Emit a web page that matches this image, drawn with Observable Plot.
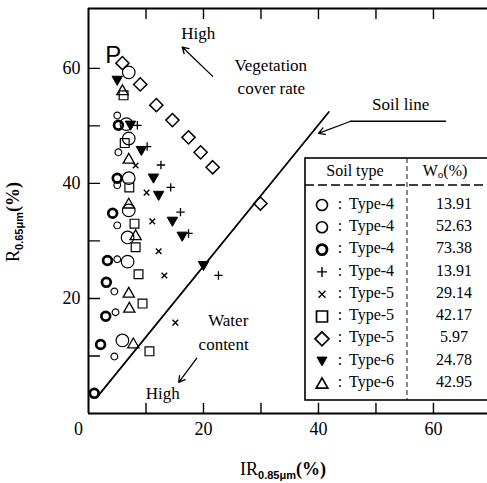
<!DOCTYPE html>
<html><head><meta charset="utf-8">
<script src="https://cdn.jsdelivr.net/npm/d3@7"></script>
<script src="https://cdn.jsdelivr.net/npm/@observablehq/plot@0.6"></script>
<style>
body{margin:0;background:#fff}
#chart svg{display:block}
</style>
</head><body><div id="chart"></div>
<script>
// ---- data (x = IR0.85μm %, y = R0.65μm %) ----
const circleW1391 = [[5.0,51.8],[5.2,45.4],[5.0,39.7],[5.0,32.7],[5.0,26.8],[4.5,21.2],[4.7,17.6],[4.5,9.9]];
const circleW5263 = [[7.0,59.3],[6.6,50.3],[7.0,47.8],[7.0,40.9],[7.0,35.3],[6.8,30.6],[6.8,26.4],[5.9,12.7]];
const boldCircleW7338 = [[5.2,50.1],[5.0,40.9],[4.2,34.8],[3.3,26.6],[3.1,22.8],[3.0,16.9],[2.1,12.0],[1.0,3.5]];
const plusW1391 = [[8.5,50.1],[10.2,46.4],[12.6,43.2],[14.3,39.3],[16.0,35.0],[17.4,31.3],[22.6,24.0]];
const timesW2914 = [[8.2,43.1],[10.1,38.4],[11.1,33.4],[12.2,28.2],[13.2,24.0],[15.1,15.8]];
const squareW4217 = [[6.1,55.3],[6.3,47.0],[7.1,39.3],[8.0,33.0],[8.2,28.9],[8.7,24.2],[9.4,19.1],[10.6,10.8]];
const diamondW597 = [[5.9,60.9],[9.0,57.2],[11.8,53.6],[14.6,51.0],[17.4,48.0],[19.5,45.4],[21.6,42.8],[29.9,36.5]];
const triDownW2478 = [[5.0,57.9],[7.3,50.1],[9.2,45.7],[11.3,40.9],[12.2,37.9],[14.6,33.4],[16.3,30.8],[20.0,25.7]];
const triUpW4295 = [[5.9,56.2],[7.0,44.3],[7.0,36.5],[8.2,31.0],[7.0,21.0],[7.1,18.4],[7.8,12.2]];

const soilLine = [[1.7,3.1],[41.8,52.4]];

const xDomain = [0, 69.4];
const yDomain = [0, 70.4];
const xTicks = [10,20,30,40,50,60];
const yTicks = [10,20,30,40,50,60];
const xTickLabels = [20,40,60];
const yTickLabels = [20,40,60];

const legendSoil = ["Type-4","Type-4","Type-4","Type-4","Type-5","Type-5","Type-5","Type-6","Type-6"];
const legendW = ["13.91","52.63","73.38","13.91","29.14","42.17","5.97","24.78","42.95"];

const notes = [
  {x:19.1, y:66.1, text:"High"},
  {x:31.7, y:60.5, text:"Vegetation"},
  {x:31.8, y:56.5, text:"cover rate"},
  {x:54.3, y:53.7, text:"Soil line"},
  {x:24.3, y:16.2, text:"Water"},
  {x:23.5, y:12.0, text:"content"},
  {x:12.9, y:3.5, text:"High"}
];
const arrows = [
  {x1:21.6, y1:58.6, x2:16.3, y2:63.7},
  {x1:18.8, y1:9.6, x2:15.7, y2:5.4},
  {x1:45.6, y1:50.8, x2:40.0, y2:48.7}
];
const soilPointer = [[62.1,50.8],[45.6,50.8]];

// ---- symbols ----
const R = s => Math.sqrt(s/Math.PI);
const plusSym = {draw(c,s){const r=R(s);c.moveTo(-r,0);c.lineTo(r,0);c.moveTo(0,-r);c.lineTo(0,r);}};
const timesSym = {draw(c,s){const r=R(s);c.moveTo(-r,-r);c.lineTo(r,r);c.moveTo(-r,r);c.lineTo(r,-r);}};
const squareSym = {draw(c,s){const r=R(s);c.moveTo(-r,-r);c.lineTo(r,-r);c.lineTo(r,r);c.lineTo(-r,r);c.closePath();}};
const diamondSym = {draw(c,s){const r=R(s);c.moveTo(0,-r);c.lineTo(r,0);c.lineTo(0,r);c.lineTo(-r,0);c.closePath();}};
const triDownSym = {draw(c,s){const r=R(s);c.moveTo(-r,-r*0.8);c.lineTo(r,-r*0.8);c.lineTo(0,r*0.95);c.closePath();}};
const triUpSym = {draw(c,s){const r=R(s);c.moveTo(0,-r*0.95);c.lineTo(r,r*0.8);c.lineTo(-r,r*0.8);c.closePath();}};
const circleSym = {draw(c,s){const r=R(s);c.moveTo(r,0);c.arc(0,0,r,0,2*Math.PI);}};
const tickShape = {draw(c,l){c.moveTo(0,0);c.lineTo(0,-l);}};

const px = d => d[0], py = d => d[1];
const series = [
  {data:circleW1391, sym:circleSym, r:3.4, sw:1.1, fill:"none", lr:5.5, lsw:1.6},
  {data:circleW5263, sym:circleSym, r:6.3, sw:1.2, fill:"none", lr:5.5, lsw:1.6},
  {data:boldCircleW7338, sym:circleSym, r:4.4, sw:2.7, fill:"none", lr:5, lsw:2.8},
  {data:plusW1391, sym:plusSym, r:4.2, sw:1.3, fill:"none", lr:5, lsw:1.4},
  {data:timesW2914, sym:timesSym, r:2.8, sw:1.4, fill:"none", lr:3.5, lsw:1.4},
  {data:squareW4217, sym:squareSym, r:4.4, sw:1.2, fill:"none", lr:5.5, lsw:1.7},
  {data:diamondW597, sym:diamondSym, r:6.6, sw:1.5, fill:"none", lr:7, lsw:1.7},
  {data:triDownW2478, sym:triDownSym, r:5.2, sw:1, fill:"black", lr:5, lsw:1},
  {data:triUpW4295, sym:triUpSym, r:5.6, sw:1.3, fill:"none", lr:5.8, lsw:1.7}
];

const SERIF = "Liberation Serif, serif";
const SANS = "Liberation Sans, sans-serif";
const W = 487, H = 483;
const plot = Plot.plot({
  width: W, height: H,
  marginLeft: 88, marginRight: 0, marginTop: 8, marginBottom: 70,
  x: {domain: xDomain, axis: null},
  y: {domain: yDomain, axis: null},
  style: {background: "white", color: "black", overflow: "visible"},
  marks: [
    Plot.ruleX([xDomain[0]], {stroke:"black", strokeWidth:2}),
    Plot.ruleY([yDomain[0], yDomain[1]], {stroke:"black", strokeWidth:2}),
    Plot.vector(xTicks, {x:d=>d, y:yDomain[0], length:10, rotate:0, anchor:"start", shape:tickShape, stroke:"black", strokeWidth:1.4}),
    Plot.vector(xTicks, {x:d=>d, y:yDomain[1], length:10, rotate:180, anchor:"start", shape:tickShape, stroke:"black", strokeWidth:1.4}),
    Plot.vector(yTicks, {y:d=>d, x:xDomain[0], length:11, rotate:90, anchor:"start", shape:tickShape, stroke:"black", strokeWidth:1.4}),
    Plot.text(xTickLabels, {x:d=>d, frameAnchor:"bottom", dy:21, text:d=>String(d), fontSize:18, fontFamily:SERIF}),
    Plot.text([0], {x:d=>d, frameAnchor:"bottom", dy:21, dx:-10, text:d=>String(d), fontSize:18, fontFamily:SERIF}),
    Plot.text(yTickLabels, {y:d=>d, frameAnchor:"left", textAnchor:"end", dx:-8, text:d=>String(d), fontSize:18, fontFamily:SERIF}),
    Plot.line(soilLine, {x:px, y:py, stroke:"black", strokeWidth:1.8}),
    Plot.line(soilPointer, {x:px, y:py, stroke:"black", strokeWidth:1.4}),
    Plot.arrow(arrows, {x1:"x1", y1:"y1", x2:"x2", y2:"y2", stroke:"black", strokeWidth:1.3, headLength:8}),
    Plot.text(notes, {x:"x", y:"y", text:"text", fontSize:17, fontFamily:SERIF}),
    Plot.text(["P"], {x:4.3, y:62.3, text:d=>d, fontSize:24, fontFamily:SANS}),
    ...series.map(s => Plot.dot(s.data, {x:px, y:py, r:s.r, symbol:s.sym, stroke:"black", strokeWidth:s.sw, fill:s.fill}))
  ]
});
document.getElementById("chart").appendChild(plot);

// ---- axis titles with subscripts ----
const svg = d3.select(plot);
const ytitle = svg.append("text").attr("transform","translate(19,222) rotate(-90)")
  .attr("text-anchor","middle").attr("font-family",SERIF).attr("font-size",18);
ytitle.append("tspan").text("R");
ytitle.append("tspan").attr("dy",4).attr("font-size",11).attr("font-weight","bold").attr("font-family",SANS).text("0.65μm");
ytitle.append("tspan").attr("dy",-4).attr("font-weight","bold").text("(%)");

const xtitle = svg.append("text").attr("x",283).attr("y",475)
  .attr("text-anchor","middle").attr("font-family",SERIF).attr("font-size",18);
xtitle.append("tspan").text("IR");
xtitle.append("tspan").attr("dy",4).attr("font-size",11).attr("font-weight","bold").attr("font-family",SANS).text("0.85μm");
xtitle.append("tspan").attr("dy",-4).attr("font-weight","bold").text("(%)");

// ---- legend table ----
const L = {x0:305, x1:487, y0:158, y1:400, div:407, sep:185, rowY:205, rowH:22.3};
const lg = svg.append("g").attr("font-family",SERIF).attr("font-size",16).attr("text-anchor","start");
lg.append("rect").attr("x",L.x0).attr("y",L.y0).attr("width",L.x1-L.x0+4).attr("height",L.y1-L.y0)
  .attr("fill","white").attr("stroke","black").attr("stroke-width",1.6);
lg.append("line").attr("x1",L.x0).attr("x2",L.x1).attr("y1",L.sep).attr("y2",L.sep)
  .attr("stroke","black").attr("stroke-width",1.6).attr("stroke-dasharray","9,4");
lg.append("line").attr("x1",L.div).attr("x2",L.div).attr("y1",L.y0).attr("y2",L.y1)
  .attr("stroke","black").attr("stroke-width",0.9).attr("stroke-dasharray","5,3");
lg.append("text").attr("x",355).attr("y",172).attr("text-anchor","middle").attr("dominant-baseline","middle").text("Soil type");
const wh = lg.append("text").attr("x",445).attr("y",172).attr("text-anchor","middle").attr("dominant-baseline","middle");
wh.append("tspan").text("W");
wh.append("tspan").attr("dy",3).attr("font-size",11).text("o");
wh.append("tspan").attr("dy",-3).text("(%)");
series.forEach((s,i) => {
  const y = L.rowY + i*L.rowH;
  lg.append("path").attr("transform",`translate(322,${y})`)
    .attr("d", d3.symbol(s.sym, Math.PI*s.lr*s.lr)())
    .attr("fill", s.fill).attr("stroke","black").attr("stroke-width", s.lsw);
  lg.append("text").attr("x",340).attr("y",y).attr("text-anchor","middle").attr("dominant-baseline","middle").text(":");
  lg.append("text").attr("x",349).attr("y",y).attr("text-anchor","start").attr("dominant-baseline","middle").text(legendSoil[i]);
  lg.append("text").attr("x",454).attr("y",y).attr("text-anchor","middle").attr("dominant-baseline","middle").text(legendW[i]);
});
</script>
</body></html>
